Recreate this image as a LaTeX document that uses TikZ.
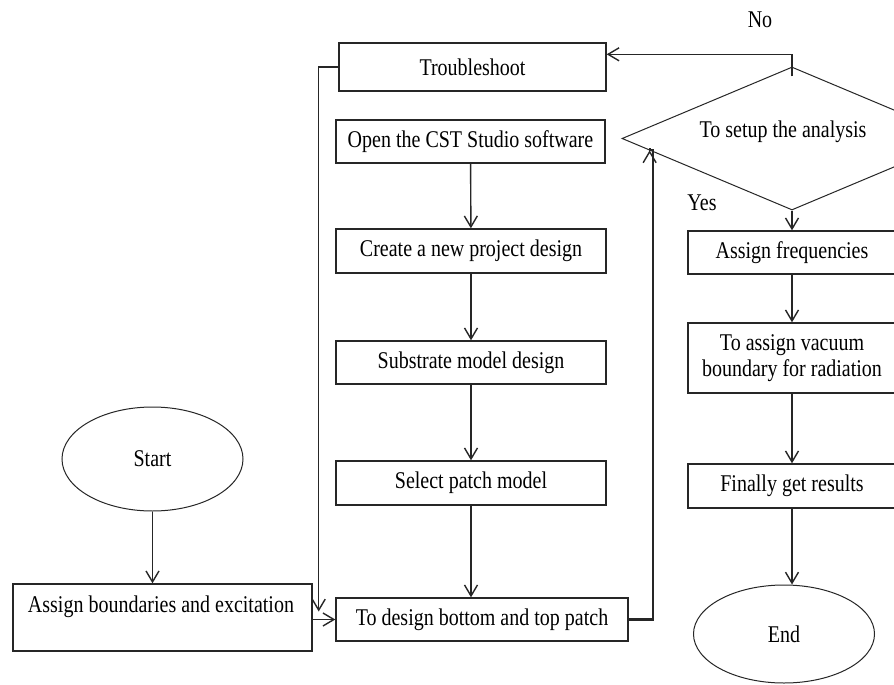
\documentclass[tikz,border=0pt]{standalone}
\usepackage{fontspec}
\setmainfont{Liberation Serif}
\usetikzlibrary{shapes.geometric,arrows.meta,calc}
\newcommand\vs[1]{\scalebox{1}[1.2]{#1}}
\begin{document}
\begin{tikzpicture}[x=1pt,y=-1pt,
  txt/.style={font=\fontsize{20}{26}\selectfont, inner sep=0pt, text=black},
  box/.style={draw=black!85, line width=1.4pt, fill=white, rectangle, inner sep=0pt, txt},
  oval/.style={draw=black!85, line width=1pt, ellipse, inner sep=0pt, txt},
  arr/.style={draw=black!85, line width=1.4pt, -{Straight Barb[length=11pt,width=13pt,line width=1.4pt]}},
  thick arr/.style={arr, line width=2.2pt}]
\useasboundingbox (0,0) rectangle (894,685);
\clip (0,0) rectangle (894,685);
\fill[white] (0,0) rectangle (894,685);

% middle column
\node[box, minimum width=267, minimum height=48] (tr) at (472.5,67) {\vs{Troubleshoot}};
\node[box, minimum width=269, minimum height=43] (open) at (470.5,141.5) {\vs{Open the CST Studio software}};
\node[box, minimum width=270, minimum height=44] (create) at (471,251) {\vs{Create a new project design}};
\node[box, minimum width=270, minimum height=43] (sub) at (471,362.5) {\vs{Substrate model design}};
\node[box, minimum width=270, minimum height=44] (sel) at (471,483) {\vs{Select patch model}};
\node[box, minimum width=292, minimum height=43] (des) at (482,619.5) {\vs{To design bottom and top patch}};

% left column
\node[oval, minimum width=181, minimum height=104] (start) at (152.5,459) {\vs{Start}};
\node[box, minimum width=299, minimum height=67] (asg) at (162.5,617.5) {};
\node[txt] (asgt) at (161,607) {\vs{Assign boundaries and excitation}};

% right column
\node[draw=black!85, line width=1pt, diamond, inner sep=0pt, minimum width=340, minimum height=143] (dia) at (792,138.5) {};
\node[txt] (diat) at (783,132) {\vs{To setup the analysis}};
\node[box, minimum width=208, minimum height=43] (freq) at (792,252.5) {\vs{Assign frequencies}};
\node[box, minimum width=208, minimum height=70, align=center] (vac) at (792,358) {\vs{To assign vacuum}\\\vs{boundary for radiation}};
\node[box, minimum width=208, minimum height=44] (fin) at (792,486) {\vs{Finally get results}};
\node[oval, minimum width=181, minimum height=98] (end) at (784,634) {\vs{End}};

\node[txt] (no) at (760,20) {\vs{No}};
\node[txt] (yes) at (702,203) {\vs{Yes}};

% connectors
\draw[arr] (open) -- (create);
\draw[arr] (create) -- (sub);
\draw[arr] (sub) -- (sel);
\draw[arr] (sel.south) -- (sel.south |- des.north);
\draw[arr] (start.south) -- (start.south |- asg.north);
\draw[arr] (asg.east |- des.west) -- (des.west);
\draw[arr] (tr.west) -| ($(asg.east)+(6,-6)$);
\coordinate (diain) at ($(dia.west)!0.165!(dia.south)$);
\draw[thick arr] (des.east) -- ++(24,0) |- (diain) -- (diain);
\draw[arr] ($(dia.north)+(0,10)$) |- ($(tr.north east)+(0,12)$);
\draw[arr] (dia.south) -- (freq.north);
\draw[arr] (freq) -- (vac);
\draw[arr] (vac) -- (fin);
\draw[thick arr] (fin.south) -- (fin.south |- end.north);
\end{tikzpicture}
\end{document}
